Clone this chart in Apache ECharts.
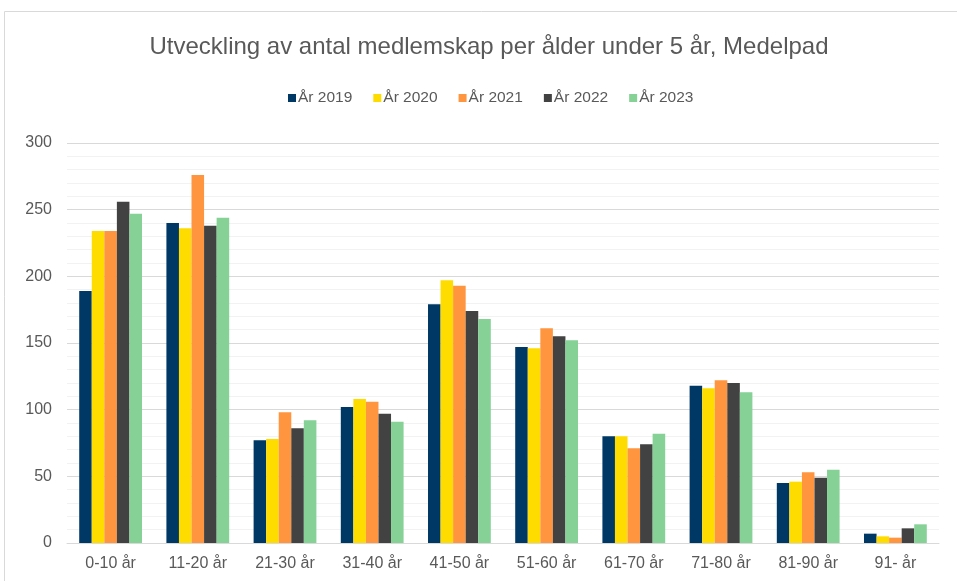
<!DOCTYPE html>
<html>
<head>
<meta charset="utf-8">
<script src="https://cdn.jsdelivr.net/npm/echarts@6/dist/echarts.min.js"></script>
<style>
  html, body { margin: 0; padding: 0; background: #fff; }
  #chart { width: 957px; height: 581px; }
</style>
</head>
<body>
<div id="chart"></div>
<script>
const categories = ['0-10 år', '11-20 år', '21-30 år', '31-40 år', '41-50 år', '51-60 år', '61-70 år', '71-80 år', '81-90 år', '91- år'];
const seriesNames = ['År 2019', 'År 2020', 'År 2021', 'År 2022', 'År 2023'];
const colors = ['#003865', '#FFDC00', '#FF953F', '#424242', '#85D196'];

const y2019 = [189, 240, 77, 102, 179, 147, 80, 118, 45, 7];
const y2020 = [234, 236, 78, 108, 197, 146, 80, 116, 46, 5];
const y2021 = [234, 276, 98, 106, 193, 161, 71, 122, 53, 4];
const y2022 = [256, 238, 86, 97, 174, 155, 74, 120, 49, 11];
const y2023 = [247, 244, 92, 91, 168, 152, 82, 113, 55, 14];
const allData = [y2019, y2020, y2021, y2022, y2023];

const chart = echarts.init(document.getElementById('chart'), null, {renderer: 'canvas'});

const font = 'Liberation Sans, Arial, sans-serif';

let option = {
    animation: false,
    color: colors,
    graphic: [{
        type: 'rect',
        shape: {x: 4.5, y: 11.5, width: 1000, height: 1000},
        style: {fill: 'none', stroke: '#d9d9d9', lineWidth: 1},
        silent: true
    }],
    title: {
        text: 'Utveckling av antal medlemskap per ålder under 5 år, Medelpad',
        left: 484,
        textAlign: 'center',
        top: 30,
        textStyle: {
            fontFamily: font,
            fontSize: 24,
            fontWeight: 'normal',
            color: '#595959'
        }
    },
    legend: {
        top: 85,
        left: 283,
        itemWidth: 8,
        itemHeight: 8,
        itemGap: 21,
        icon: 'rect',
        textStyle: {
            fontFamily: font,
            fontSize: 15.5,
            color: '#595959',
            padding: [0, 0, 0, -3]
        },
        data: seriesNames
    },
    grid: {
        left: 67,
        right: 18,
        top: 143,
        bottom: 38,
        containLabel: false
    },
    xAxis: {
        type: 'category',
        data: categories,
        axisTick: {show: false},
        axisLine: {lineStyle: {color: '#d9d9d9', width: 1}},
        axisLabel: {
            fontFamily: font,
            fontSize: 16,
            color: '#595959',
            margin: 13
        }
    },
    yAxis: {
        type: 'value',
        min: 0,
        max: 300,
        interval: 50,
        axisLine: {show: false},
        axisTick: {show: false},
        axisLabel: {
            fontFamily: font,
            fontSize: 16,
            color: '#595959',
            margin: 15
        },
        splitLine: {lineStyle: {color: '#d9d9d9', width: 1}},
        minorTick: {show: false, splitNumber: 5},
        minorSplitLine: {show: true, lineStyle: {color: '#f2f2f2', width: 1}}
    },
    series: seriesNames.map(function (name, i) {
        return {
            name: name,
            type: 'bar',
            data: allData[i],
            barGap: '0%',
            barCategoryGap: '28%',
            itemStyle: {color: colors[i]}
        };
    })
};

chart.setOption(option);
</script>
</body>
</html>
